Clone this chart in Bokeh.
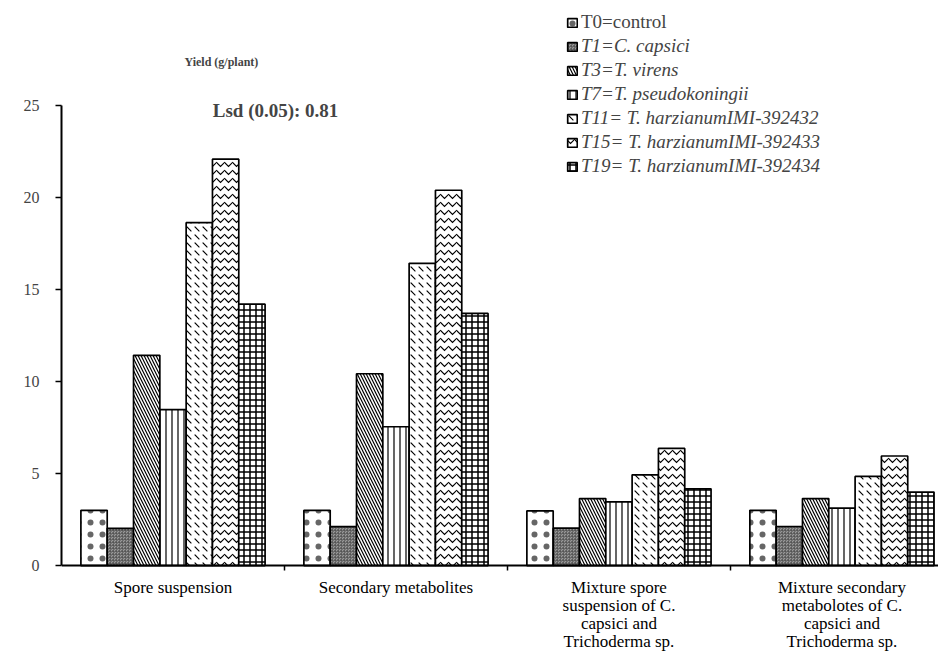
from bokeh.plotting import figure
from bokeh.models import Range1d, FixedTicker, Legend, LegendItem, Label, ColumnDataSource
from bokeh.transform import dodge
from bokeh.embed import file_html
from bokeh.resources import INLINE

categories = ["Spore suspension", "Secondary metabolites",
              "Mixture spore\nsuspension of C.\ncapsici and\nTrichoderma sp.",
              "Mixture secondary\nmetabolotes of C.\ncapsici and\nTrichoderma sp."]

treatments = ["T0=control", "T1=C. capsici", "T3=T. virens", "T7=T. pseudokoningii",
              "T11= T. harzianumIMI-392432", "T15= T. harzianumIMI-392433",
              "T19= T. harzianumIMI-392434"]

T0 = [3.0, 3.0, 2.97, 3.0]
T1 = [2.02, 2.11, 2.03, 2.12]
T3 = [11.42, 10.42, 3.64, 3.64]
T7 = [8.47, 7.54, 3.46, 3.12]
T11 = [18.63, 16.42, 4.93, 4.84]
T15 = [22.08, 20.39, 6.36, 5.95]
T19 = [14.2, 13.7, 4.17, 3.99]
series = [T0, T1, T3, T7, T11, T15, T19]

y_ticks = [0, 5, 10, 15, 20, 25]
y_max = 25

styles = [
    dict(fill_color="white", hatch_pattern=".", hatch_scale=12, hatch_weight=0.8, hatch_alpha=0.6),
    dict(fill_color="#9a9a9a", hatch_pattern="*", hatch_scale=3, hatch_weight=0.6, hatch_color="#505050"),
    dict(fill_color="white", hatch_pattern="\\", hatch_scale=6, hatch_weight=1.2),
    dict(fill_color="white", hatch_pattern="|", hatch_scale=6, hatch_weight=1.2),
    dict(fill_color="white", hatch_pattern="`", hatch_scale=8, hatch_weight=1.1),
    dict(fill_color="white", hatch_pattern="v", hatch_scale=8, hatch_weight=1.2),
    dict(fill_color="white", hatch_pattern="+", hatch_scale=6, hatch_weight=1.5),
]

FONT = "Liberation Serif"
bw = 0.118

p = figure(frame_width=877, frame_height=653, output_backend="svg", toolbar_location=None,
           x_range=Range1d(0, 3.933), y_range=Range1d(-4.78, 30.7),
           min_border_left=61, min_border_right=0, min_border_top=0, min_border_bottom=0)
p.outline_line_color = None
p.xgrid.visible = False
p.ygrid.visible = False
p.background_fill_color = "white"

src = ColumnDataSource(dict(xc=[i + 0.5 for i in range(len(categories))],
                            base=[0] * len(categories), cat=categories,
                            **{f"s{j}": s for j, s in enumerate(series)}))

renderers = []
for j, st in enumerate(styles):
    st = dict(st)
    hc = st.pop("hatch_color", "black")
    r = p.vbar(x=dodge("xc", (j - 3) * bw), top=f"s{j}", width=bw, bottom=0, source=src,
               line_color="black", line_width=1.7, hatch_color=hc, **st)
    renderers.append(r)

# category labels below the axis
p.text(x="xc", y="base", text="cat", source=src, text_align="center", text_baseline="top",
       y_offset=12, text_font="Liberation Serif", text_font_size="17px", text_line_height=0.95,
       text_color="black")

# y axis
ya = p.yaxis[0]
ya.ticker = FixedTicker(ticks=y_ticks)
ya.bounds = (0, y_max)
ya.major_tick_out = 6
ya.major_tick_in = 0
ya.minor_tick_line_color = None
ya.axis_line_width = 2
ya.major_tick_line_width = 1.5
ya.major_label_text_font = FONT
ya.major_label_text_font_size = "16px"
ya.major_label_standoff = 16

# x axis at y = 0
xa = p.xaxis[0]
xa.fixed_location = 0
xa.ticker = FixedTicker(ticks=[i + 0.5 for i in range(len(categories))], minor_ticks=[1, 2, 3])
xa.major_label_overrides = {i + 0.5: "" for i in range(len(categories))}
xa.major_label_text_font_size = "0px"
xa.major_tick_line_color = None
xa.major_tick_out = 0
xa.minor_tick_out = 5
xa.minor_tick_in = 0
xa.minor_tick_line_width = 1.5
xa.axis_line_width = 2

p.add_layout(Label(x=0.717, y=27.34, text="Yield (g/plant)", text_font=FONT, text_font_size="12px",
                   text_font_style="bold", text_align="center", text_baseline="middle"))
p.add_layout(Label(x=0.96, y=24.75, text="Lsd (0.05): 0.81", text_font=FONT, text_font_size="19px",
                   text_font_style="bold", text_align="center", text_baseline="middle"))

common = dict(label_text_font=FONT, label_text_font_size="19px", glyph_width=12, glyph_height=11,
              label_height=20, spacing=2, padding=0, margin=0, border_line_color=None,
              background_fill_alpha=0, label_standoff=3)
leg1 = Legend(items=[LegendItem(label=treatments[0], renderers=[renderers[0]])],
              location=(505, 620), **common)
leg2 = Legend(items=[LegendItem(label=treatments[j], renderers=[renderers[j]]) for j in range(1, 7)],
              location=(505, 476), label_text_font_style="italic", **common)
p.add_layout(leg1, "center")
p.add_layout(leg2, "center")

open("out.html", "w").write(file_html(p, INLINE))
